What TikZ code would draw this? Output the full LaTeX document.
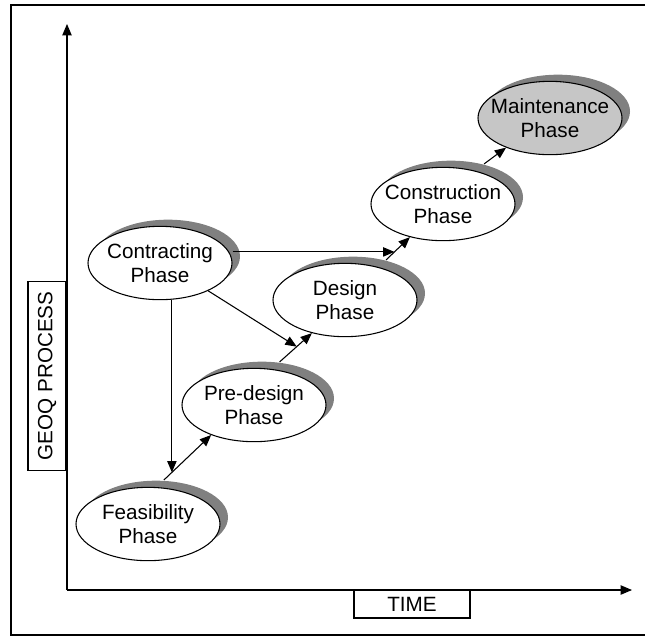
\documentclass[tikz,border=0pt]{standalone}
\usepackage{fontspec}
\setmainfont{Liberation Sans}
\usetikzlibrary{shapes.geometric,shadows,arrows.meta}

\tikzset{
phase/.style={ellipse, draw, fill=white, line width=0.8pt,
  minimum width=108pt, minimum height=55pt, inner xsep=-20pt, inner ysep=-6pt,
  align=center, font=\fontsize{15.5}{17.5}\selectfont,
  drop shadow={shadow xshift=6pt, shadow yshift=5pt, fill=gray, opacity=1}},
flow/.style={-{Triangle[length=8.5pt,width=7pt]}, line width=0.8pt},
axisname/.style={draw, line width=0.8pt, inner sep=0pt,
  font=\fontsize{15.5}{17.5}\selectfont}
}

\begin{document}
\begin{tikzpicture}[x=0.75pt,y=-0.75pt]
\useasboundingbox (0,0) rectangle (645,637);

% frame
\draw[line width=1pt] (11,5) rectangle (660,635);

% axes
\coordinate (origin) at (67,590);
\draw[flow] (origin) -- (67,24);
\draw[flow] (origin) -- (632,590);
\node[axisname, rotate=90, minimum width=141.75pt, minimum height=28.5pt] (yname) at (47,376) {GEOQ PROCESS};
\node[axisname, minimum width=87pt, minimum height=21pt] (xname) at (412,604) {TIME};

% phases
\node[phase] (feas) at (148,524) {Feasibility\\Phase};
\node[phase] (contract) at (160,263) {Contracting\\Phase};
\node[phase] (predesign) at (254,405) {Pre-design\\Phase};
\node[phase] (design) at (345,300) {Design\\Phase};
\node[phase] (constr) at (443,204) {Construction\\Phase};
\node[phase, fill=gray!45] (maint) at (550,118) {Maintenance\\Phase};

% phase to phase, leaving from the shadow
\draw[flow] ([shift={(8,-7)}]feas.78) -- coordinate[pos=0.17] (fp) (predesign.-145);
\draw[flow] ([shift={(8,-7)}]predesign.64) -- coordinate[pos=0.53] (pd) (design.-135);
\draw[flow] ([shift={(8,-7)}]design.45) -- coordinate[pos=0.35] (dc) (constr.-135);
\draw[flow] ([shift={(8,-7)}]constr.45) -- (maint.-146);

% contracting feeds the first three steps
\draw[flow] (fp |- contract.south) -- (fp);
\draw[flow] (contract.-30) -- (pd);
\draw[flow] (dc -| contract.east) -- (dc);

\end{tikzpicture}
\end{document}
